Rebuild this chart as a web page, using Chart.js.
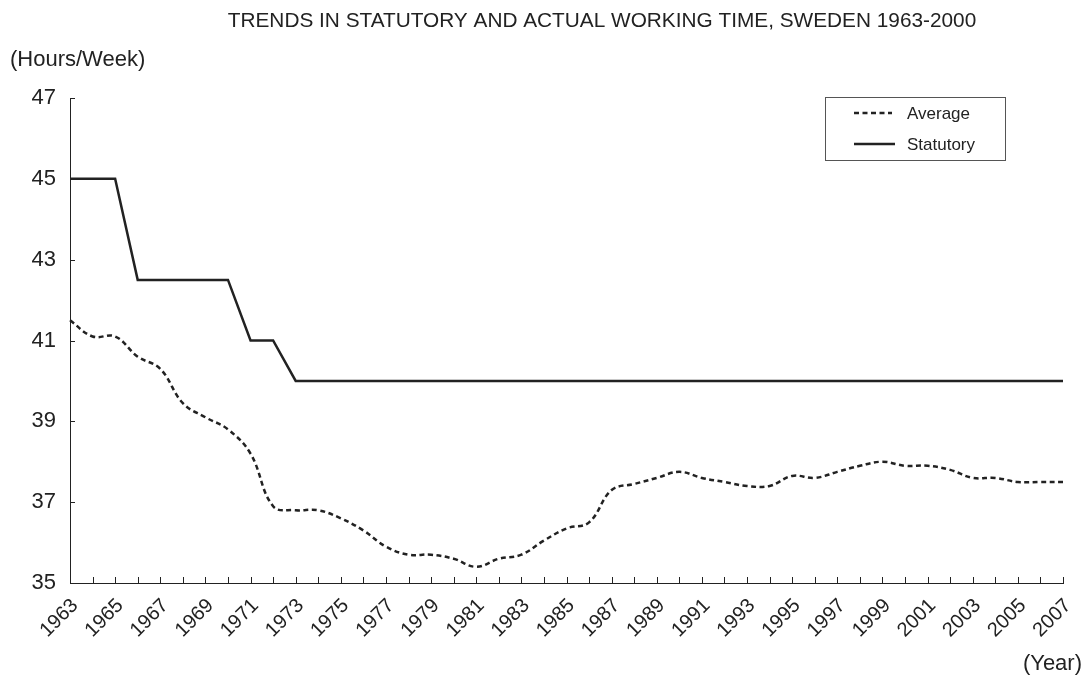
<!DOCTYPE html>
<html>
<head>
<meta charset="utf-8">
<script src="https://cdn.jsdelivr.net/npm/chart.js@4"></script>
<style>
    html, body { margin: 0; padding: 0; background: #fff; }
    #wrap { width: 1086px; height: 675px; }
</style>
</head>
<body>
<div id="wrap"><canvas id="workingTimeChart" width="1086" height="675"></canvas></div>
<script>
// years 1963 - 2007
const years = [];
for (let y = 1963; y <= 2007; y++) years.push(String(y));

const averageHours = [
    41.5, 41.1, 41.1, 40.6, 40.3, 39.45, 39.1, 38.8, 38.2, 36.9,
    36.8, 36.8, 36.6, 36.3, 35.9, 35.7, 35.7, 35.6, 35.4, 35.6,
    35.7, 36.05, 36.35, 36.5, 37.3, 37.45, 37.6, 37.75, 37.6, 37.5,
    37.4, 37.4, 37.65, 37.6, 37.75, 37.9, 38.0, 37.9, 37.9, 37.8,
    37.6, 37.6, 37.5, 37.5, 37.5
];

const statutoryHours = [
    45, 45, 45, 42.5, 42.5, 42.5, 42.5, 42.5, 41, 41,
    40, 40, 40, 40, 40, 40, 40, 40, 40, 40,
    40, 40, 40, 40, 40, 40, 40, 40, 40, 40,
    40, 40, 40, 40, 40, 40, 40, 40, 40, 40,
    40, 40, 40, 40, 40
];

const yTicks = [35, 37, 39, 41, 43, 45, 47];

const ink = '#222';
const fontFamily = '"Liberation Sans", Arial, sans-serif';

// ticks that point into the plot, plus texts and the boxed legend
const decorations = {
    id: 'decorations',
    afterDraw(chart) {
        const ctx = chart.ctx;
        const x = chart.scales.x;
        const y = chart.scales.y;
        const area = chart.chartArea;
        ctx.save();
        ctx.strokeStyle = ink;
        ctx.lineWidth = 1;
        ctx.beginPath();
        for (let i = 0; i < x.ticks.length; i++) {
            const px = Math.round(x.getPixelForTick(i)) + 0.5;
            ctx.moveTo(px, area.bottom);
            ctx.lineTo(px, area.bottom - 6);
        }
        for (let i = 0; i < y.ticks.length; i++) {
            const py = Math.round(y.getPixelForTick(i)) + 0.5;
            ctx.moveTo(area.left, py);
            ctx.lineTo(area.left + 5, py);
        }
        ctx.stroke();

        ctx.fillStyle = ink;
        ctx.font = '20.8px ' + fontFamily;
        ctx.textBaseline = 'middle';
        ctx.textAlign = 'center';
        ctx.fillText('TRENDS IN STATUTORY AND ACTUAL WORKING TIME, SWEDEN 1963-2000', 602, 21);
        ctx.font = '22px ' + fontFamily;
        ctx.textAlign = 'left';
        ctx.fillText('(Hours/Week)', 10, 60);
        ctx.textAlign = 'right';
        ctx.fillText('(Year)', 1082, 664);

        // legend box
        ctx.strokeStyle = '#555';
        ctx.strokeRect(825.5, 97.5, 180, 63);
        ctx.font = '17px ' + fontFamily;
        ctx.textAlign = 'left';
        const rowY = [113, 144];
        chart.data.datasets.forEach((ds, i) => {
            ctx.save();
            ctx.strokeStyle = ds.borderColor;
            ctx.lineWidth = ds.borderWidth;
            ctx.setLineDash(ds.borderDash || []);
            ctx.beginPath();
            ctx.moveTo(854, rowY[i]);
            ctx.lineTo(i === 0 ? 892 : 895, rowY[i]);
            ctx.stroke();
            ctx.restore();
            ctx.fillText(ds.label, 907, rowY[i] + 1);
        });
        ctx.restore();
    }
};

new Chart(document.getElementById('workingTimeChart'), {
    type: 'line',
    data: {
        labels: years,
        datasets: [
            {
                label: 'Average',
                data: averageHours,
                borderColor: ink,
                borderWidth: 2.5,
                borderDash: [5, 3.5],
                pointRadius: 0,
                tension: 0.4,
                fill: false
            },
            {
                label: 'Statutory',
                data: statutoryHours,
                borderColor: ink,
                borderWidth: 2.5,
                pointRadius: 0,
                tension: 0,
                fill: false
            }
        ]
    },
    options: {
        responsive: false,
        animation: false,
        layout: {
            padding: {top: 98, right: 23, left: 0, bottom: 0}
        },
        scales: {
            x: {
                type: 'category',
                offset: false,
                grid: {display: false},
                border: {display: true, color: ink, width: 1},
                afterFit: (scale) => { scale.height = 92; },
                ticks: {
                    autoSkip: false,
                    minRotation: 45,
                    maxRotation: 45,
                    padding: 3,
                    labelOffset: 5,
                    color: ink,
                    font: {family: fontFamily, size: 20},
                    callback: function (value, index) {
                        return index % 2 === 0 ? this.getLabelForValue(value) : '';
                    }
                }
            },
            y: {
                min: 35,
                max: 47,
                afterBuildTicks: (scale) => {
                    scale.ticks = yTicks.map(v => ({value: v}));
                },
                afterFit: (scale) => { scale.width = 70; },
                grid: {display: false},
                border: {display: true, color: ink, width: 1},
                ticks: {
                    padding: 6,
                    color: ink,
                    font: {family: fontFamily, size: 22}
                }
            }
        },
        plugins: {
            legend: {display: false},
            title: {display: false},
            tooltip: {enabled: false}
        }
    },
    plugins: [decorations]
});
</script>
</body>
</html>
